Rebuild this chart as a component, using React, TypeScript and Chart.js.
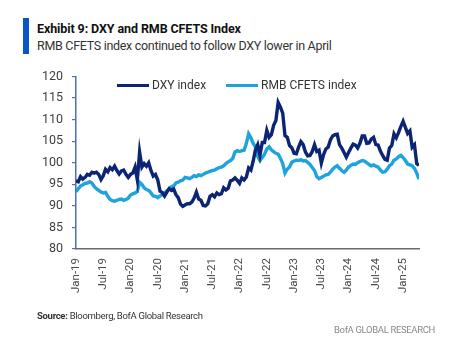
import React, { useEffect, useRef } from "react";
import { Chart, registerables } from "chart.js";

Chart.register(...registerables);

const title = "Exhibit 9: DXY and RMB CFETS Index";
const subtitle = "RMB CFETS index continued to follow DXY lower in April";
const seriesNames = ["DXY index", "RMB CFETS index"];
// x-axis tick labels every 6 months starting Jan-19
const tickLabels = ["Jan-19", "Jul-19", "Jan-20", "Jul-20", "Jan-21", "Jul-21", "Jan-22", "Jul-22", "Jan-23", "Jul-23", "Jan-24", "Jul-24", "Jan-25"];
const yTicks = [80, 85, 90, 95, 100, 105, 110, 115, 120];

// semi-monthly readings (mid-month, month-end), Jan-2019 .. Apr-2025
const dxy = [
  95.8, 95.6, 96.8, 96.2, 96.6, 97.3, 97.1, 97.8, 97.6, 97.8, 97.3, 96.1,
  97.0, 98.5, 97.9, 98.9, 98.4, 99.2, 98.2, 97.4, 98.1, 98.3, 97.3, 96.6,
  97.3, 97.6, 99.0, 96.0, 102.5, 99.0, 99.8, 99.2, 100.0, 98.2, 96.9, 97.3,
  96.0, 93.4, 93.1, 92.3, 93.2, 94.0, 93.6, 93.9, 92.6, 91.9, 90.4, 89.9,
  90.2, 90.5, 90.5, 90.9, 91.8, 93.2, 91.6, 91.3, 90.1, 90.0, 90.5, 92.2,
  92.6, 92.1, 93.0, 92.6, 92.8, 94.2, 93.7, 94.1, 95.8, 96.0, 96.5, 95.9,
  95.2, 96.5, 96.0, 96.7, 98.8, 98.3, 100.4, 103.0, 104.2, 101.8, 104.7, 104.7,
  107.5, 105.9, 106.5, 108.7, 109.8, 114.0, 112.9, 111.5, 106.3, 105.9, 104.0, 103.5,
  102.2, 102.1, 103.6, 104.9, 104.2, 102.5, 101.6, 101.7, 102.6, 104.2, 102.6, 102.9,
  99.9, 101.9, 103.2, 103.6, 105.3, 106.2, 106.5, 106.6, 104.2, 103.4, 102.4, 101.3,
  102.4, 103.4, 104.3, 104.1, 103.4, 104.5, 106.2, 106.2, 104.5, 104.6, 105.5, 105.9,
  104.2, 104.1, 102.7, 101.7, 100.8, 100.6, 103.4, 104.0, 106.7, 105.8, 107.0, 108.4,
  109.6, 108.2, 106.8, 107.4, 103.6, 104.2, 99.8, 99.4,
];

const cfets = [
  93.3, 94.0, 94.6, 94.9, 95.2, 95.3, 95.6, 95.3, 94.5, 94.0, 93.6, 93.2,
  93.0, 93.1, 92.2, 91.5, 91.2, 91.1, 91.3, 91.5, 91.6, 91.3, 91.5, 91.8,
  92.5, 92.8, 93.0, 93.3, 95.5, 95.0, 94.2, 93.8, 93.6, 93.0, 92.3, 92.2,
  91.9, 92.3, 92.6, 93.0, 93.5, 94.0, 94.5, 94.6, 95.3, 95.5, 95.8, 96.0,
  96.6, 96.5, 96.3, 96.6, 97.0, 96.8, 97.2, 97.0, 97.3, 97.6, 97.8, 98.0,
  98.2, 98.3, 98.6, 98.9, 99.0, 99.3, 99.8, 100.2, 100.5, 101.0, 102.5, 102.8,
  102.6, 102.8, 102.9, 104.5, 106.7, 105.8, 104.5, 103.7, 101.5, 100.5, 101.2, 102.0,
  103.2, 103.7, 103.0, 102.6, 102.2, 102.0, 101.0, 99.8, 97.6, 98.5, 99.0, 100.1,
  100.4, 100.6, 100.5, 100.7, 100.4, 100.5, 100.1, 99.6, 98.9, 98.2, 96.8, 96.3,
  96.6, 96.9, 97.2, 97.3, 97.8, 98.5, 99.0, 99.3, 98.7, 98.2, 97.8, 98.3,
  99.0, 99.4, 99.7, 99.6, 100.0, 100.3, 100.5, 100.4, 100.0, 99.6, 99.3, 99.5,
  99.2, 99.0, 98.3, 97.8, 97.9, 98.5, 99.3, 99.7, 100.6, 100.9, 101.4, 101.7,
  101.2, 100.5, 99.7, 99.5, 99.3, 98.7, 97.6, 96.2,
];

const DXY_COLOR = "#0b2473";
const CFETS_COLOR = "#1fa3dd";
const FONT = "Roboto, 'Open Sans', sans-serif";

export default function App() {
  const canvasRef = useRef<HTMLCanvasElement | null>(null);

  useEffect(() => {
    const canvas = canvasRef.current;
    if (!canvas) return;
    const toPoints = (arr: number[]) => arr.map((v, i) => ({ x: i / 2, y: v }));
    const chart = new Chart(canvas, {
      type: "line",
      data: {
        datasets: [
          {
            label: seriesNames[0],
            data: toPoints(dxy),
            borderColor: DXY_COLOR,
            backgroundColor: DXY_COLOR,
            borderWidth: 3.4,
            pointRadius: 0,
            tension: 0,
          },
          {
            label: seriesNames[1],
            data: toPoints(cfets),
            borderColor: CFETS_COLOR,
            backgroundColor: CFETS_COLOR,
            borderWidth: 3.4,
            pointRadius: 0,
            tension: 0,
          },
        ],
      },
      options: {
        animation: false,
        responsive: false,
        maintainAspectRatio: false,
        layout: { padding: { left: 6, right: 52, top: 15, bottom: 21 } },
        plugins: {
          legend: { display: false },
          tooltip: { enabled: false },
        },
        scales: {
          x: {
            type: "linear",
            min: 0,
            max: 75.5,
            afterFit: (s: any) => {
              s.height = 50;
            },
            border: { display: true, color: "#6b6b6b", width: 1.5 },
            grid: { display: false, drawTicks: false },
            ticks: {
              stepSize: 6,
              includeBounds: false,
              autoSkip: false,
              minRotation: 90,
              maxRotation: 90,
              padding: 9,
              color: "#4a4a4a",
              font: { family: FONT, size: 11.5 },
              callback: (v: any) => {
                const idx = Math.round(Number(v) / 6);
                return Number(v) % 6 === 0 ? tickLabels[idx] ?? "" : "";
              },
            },
          },
          y: {
            min: yTicks[0],
            max: yTicks[yTicks.length - 1],
            afterFit: (s: any) => {
              s.width = 70;
            },
            afterBuildTicks: (s: any) => {
              s.ticks = yTicks.map((v) => ({ value: v }));
            },
            border: { display: true, color: "#4f6fae", width: 1.5 },
            grid: { drawOnChartArea: false, drawTicks: true, tickLength: 4, color: "#4f6fae", lineWidth: 1.2 },
            ticks: {
              padding: 9,
              color: "#3f3f3f",
              font: { family: FONT, size: 12.5 },
            },
          },
        },
      },
    });
    return () => chart.destroy();
  }, []);

  const legendItem = (color: string, text: string, ml: number) => (
    <div style={{ display: "flex", alignItems: "center", marginLeft: ml }}>
      <span style={{ display: "inline-block", width: 32, height: 3, background: color, marginRight: 3 }} />
      <span>{text}</span>
    </div>
  );

  return (
    <div
      style={{
        position: "absolute",
        left: 0,
        top: 0,
        width: 471,
        height: 345,
        background: "#ffffff",
        fontFamily: FONT,
        overflow: "hidden",
      }}
    >
      <div style={{ position: "absolute", left: 23, top: 18, width: 6, height: 36, background: "#0a56c9" }} />
      <div style={{ position: "absolute", left: 37, top: 21, fontSize: 12.5, fontWeight: 700, color: "#111", whiteSpace: "nowrap", letterSpacing: -0.1 }}>
        {title}
      </div>
      <div style={{ position: "absolute", left: 37, top: 38, fontSize: 12.5, fontWeight: 400, color: "#333", whiteSpace: "nowrap", letterSpacing: -0.3 }}>
        {subtitle}
      </div>
      <canvas
        ref={canvasRef}
        width={471}
        height={260}
        style={{ position: "absolute", left: 0, top: 60, width: 471, height: 260 }}
      />
      <div
        style={{
          position: "absolute",
          left: 117,
          top: 77,
          display: "flex",
          fontSize: 12,
          color: "#333",
          whiteSpace: "nowrap",
          lineHeight: "16px",
        }}
      >
        {legendItem(DXY_COLOR, seriesNames[0], 0)}
        {legendItem(CFETS_COLOR, seriesNames[1], 20)}
      </div>
      <div style={{ position: "absolute", left: 37, top: 310, fontSize: 9.5, color: "#333", whiteSpace: "nowrap", letterSpacing: -0.3 }}>
        <b>Source:</b> Bloomberg, BofA Global Research
      </div>
      <div style={{ position: "absolute", left: 334, top: 324, fontSize: 9.5, color: "#8a8a8a", whiteSpace: "nowrap", letterSpacing: -0.35 }}>
        BofA GLOBAL RESEARCH
      </div>
    </div>
  );
}
